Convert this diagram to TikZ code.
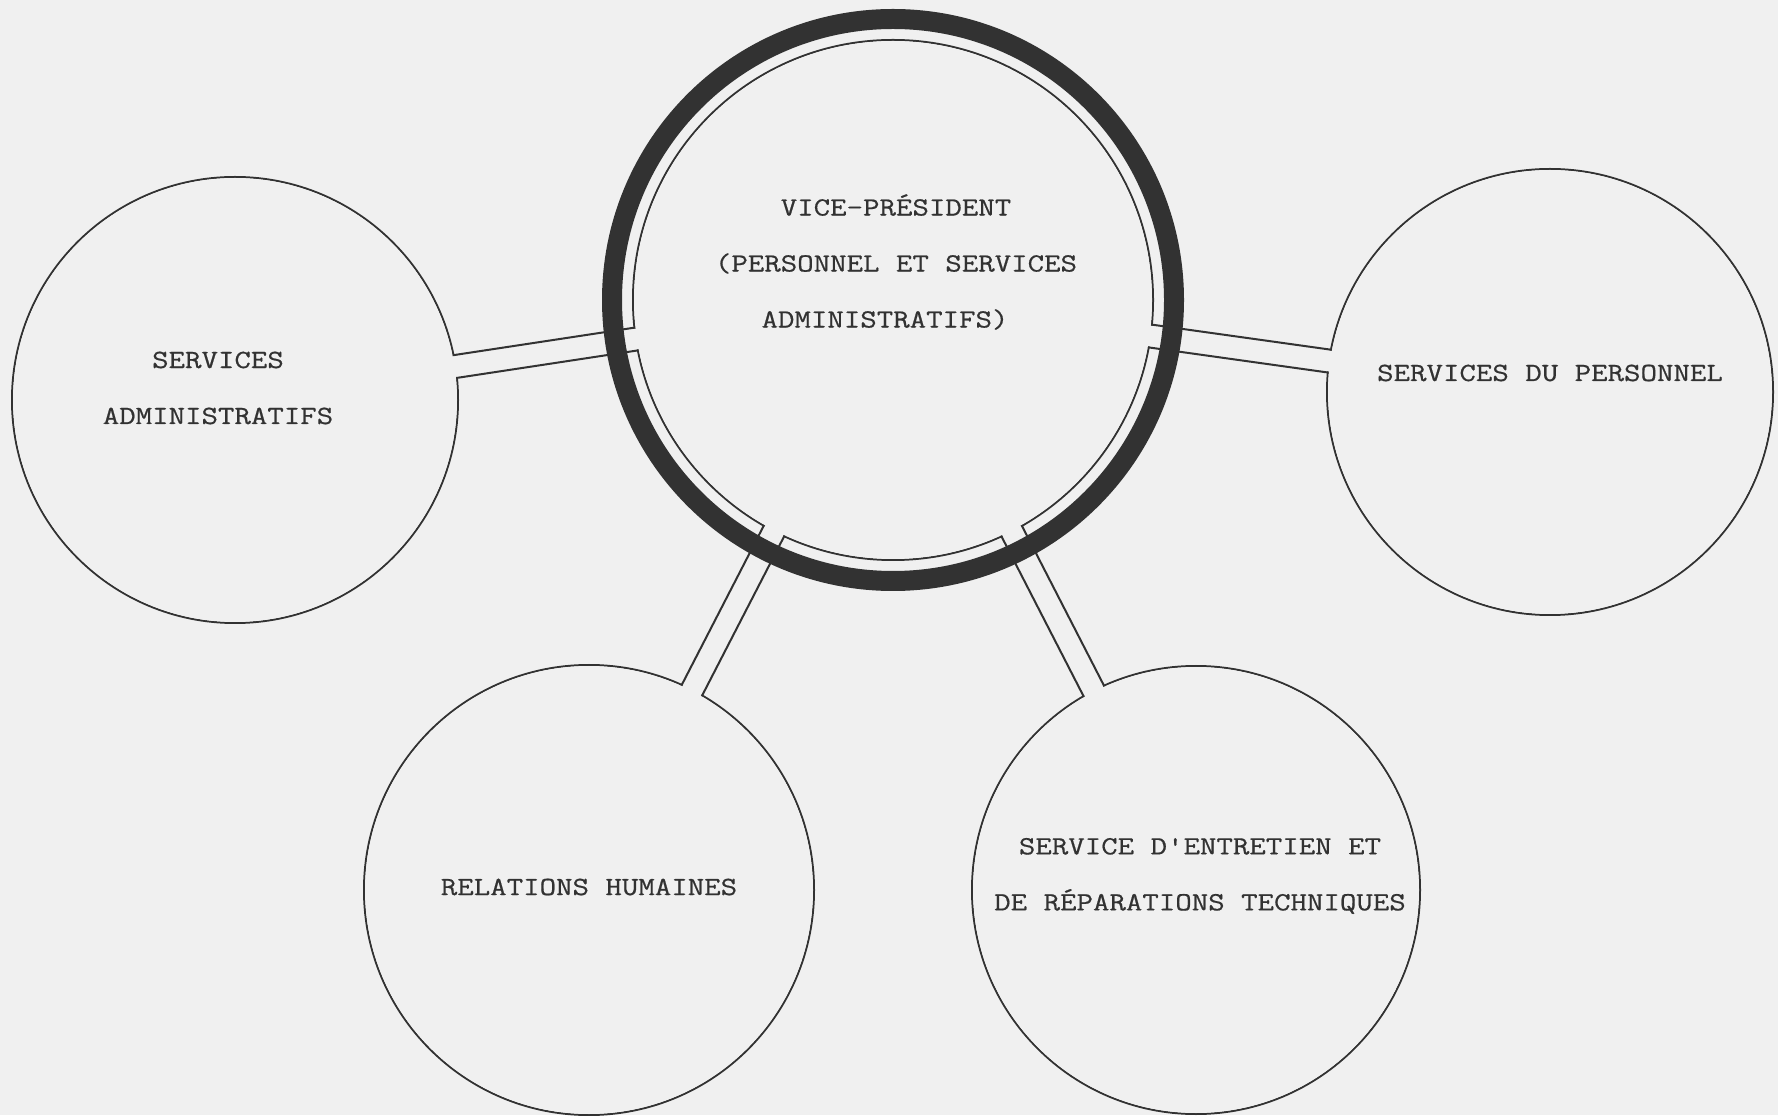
\documentclass[tikz,border=0pt]{standalone}
\usepackage{fontspec}
\newfontfamily\typer[FakeStretch=1.22, FakeBold=0.6]{Latin Modern Mono}
\usetikzlibrary{calc}
\definecolor{ink}{RGB}{50,50,50}
\definecolor{paper}{RGB}{240,240,240}
% double-line pipe from the hub (#1) to a satellite (#2)
\newcommand{\drawpipe}[2]{%
	\fill[paper] ($(#1)!5.25pt!90:(#2)$) -- ($(#2)!5.25pt!-90:(#1)$) -- ($(#2)!5.25pt!90:(#1)$) -- ($(#1)!5.25pt!-90:(#2)$) -- cycle;
	\draw[ink, line width=1pt] ($(#1)!5.75pt!90:(#2)$) -- ($(#2)!5.75pt!-90:(#1)$);
	\draw[ink, line width=1pt] ($(#1)!5.75pt!-90:(#2)$) -- ($(#2)!5.75pt!90:(#1)$);}

\begin{document}
\begin{tikzpicture}[x=0.5pt, y=0.5pt]
		%%%%% START %%%%%
		
		\fill[paper] (0, 0) rectangle (1778, 1115);
		\useasboundingbox (0, 0) rectangle (1778, 1115);
		
		\coordinate (hub) at (893, 815);
		\coordinate (admin) at (235, 715);
		\coordinate (perso) at (1550, 723);
		\coordinate (relations) at (589, 225);
		\coordinate (entretien) at (1196, 225);
		
		\draw[ink, line width=1pt] (admin) circle (223);
		\draw[ink, line width=1pt] (perso) circle (223);
		\draw[ink, line width=1pt] (relations) circle (225);
		\draw[ink, line width=1pt] (entretien) circle (224);
		\draw[ink, line width=1pt] (hub) circle (260);
		
		\drawpipe{hub}{admin}
		\drawpipe{hub}{perso}
		\drawpipe{hub}{relations}
		\drawpipe{hub}{entretien}
		
		\fill[paper] (admin) circle (222);
		\fill[paper] (perso) circle (222);
		\fill[paper] (relations) circle (224);
		\fill[paper] (entretien) circle (223);
		\fill[paper] (hub) circle (259);
		
		\draw[ink, line width=10pt] (hub) circle (281);
		
		\node[ink, font=\typer\fontsize{13.1}{28}\selectfont, align=center] (hubtext) at (896, 853) {VICE-PRÉSIDENT\\(PERSONNEL ET SERVICES\\ADMINISTRATIFS)\hspace*{11pt}};
		\node[ink, font=\typer\fontsize{13.1}{28}\selectfont, align=center] (admintext) at (218, 727) {SERVICES\\ADMINISTRATIFS};
		\node[ink, font=\typer\fontsize{13.1}{28}\selectfont] (persotext) at (1550, 742) {SERVICES DU PERSONNEL};
		\node[ink, font=\typer\fontsize{13.1}{28}\selectfont] (relationstext) at (589, 228) {RELATIONS HUMAINES};
		\node[ink, font=\typer\fontsize{13.1}{28}\selectfont, align=center] (entretientext) at (1200, 239) {SERVICE D'ENTRETIEN ET\\DE RÉPARATIONS TECHNIQUES};
		
		%%%%% END %%%%%
\end{tikzpicture}
\end{document}
